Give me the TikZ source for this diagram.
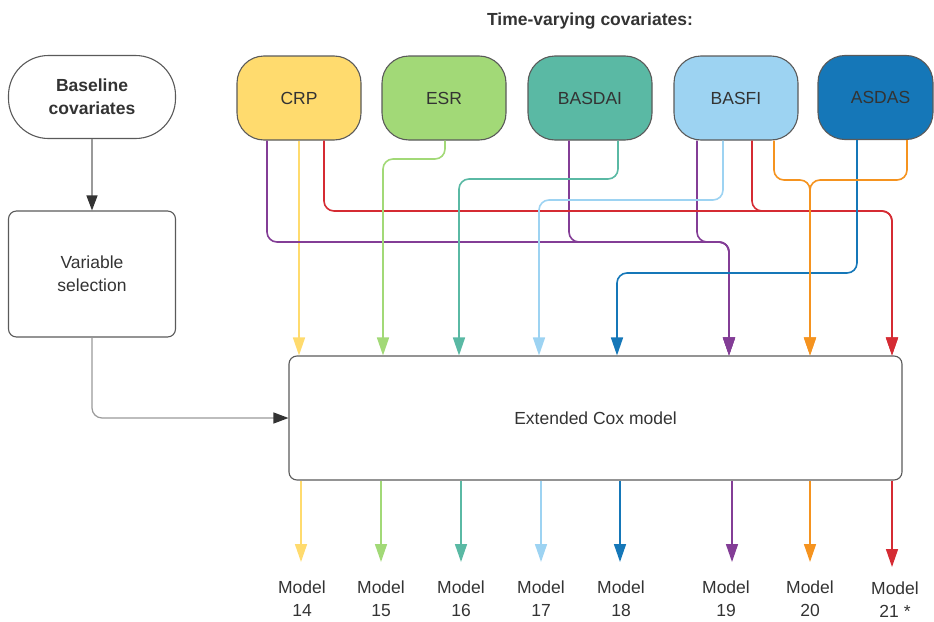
\documentclass[tikz,border=0pt]{standalone}
\usepackage{fontspec}
\setmainfont{Liberation Sans}
\usetikzlibrary{arrows.meta}
\definecolor{cyel}{HTML}{FFDB6E}
\definecolor{cgrn}{HTML}{A2D977}
\definecolor{ctea}{HTML}{5AB9A4}
\definecolor{clbl}{HTML}{9DD3F2}
\definecolor{cdbl}{HTML}{1577B8}
\definecolor{cpur}{HTML}{833D96}
\definecolor{cora}{HTML}{F5931F}
\definecolor{cred}{HTML}{D52B33}
\definecolor{ctxt}{HTML}{333333}
\definecolor{cbrd}{HTML}{5A5A5A}
\definecolor{cgline}{HTML}{9A9A9A}
\begin{document}
\begin{tikzpicture}[x=1pt,y=-1pt,
  font=\fontsize{17.5}{23}\selectfont, text=ctxt,
  covbox/.style={draw=cbrd, line width=1.1pt, rounded corners=27pt, minimum width=124pt, minimum height=84pt, inner sep=0pt},
  plainbox/.style={draw=cbrd, line width=1.1pt, rounded corners=8pt, inner sep=0pt, align=center},
  conn/.style={draw=#1, line width=1.6pt, rounded corners=10pt, -{Triangle[length=18pt,width=12pt,color=#1]}},
  grayconn/.style={draw=cgline, line width=1.2pt, rounded corners=10pt, -{Triangle[length=15pt,width=11pt,color=ctxt]}},
  lbl/.style={align=center, inner sep=0pt}
]
\useasboundingbox (0,0) rectangle (934,621);

% title
\node[font=\bfseries\fontsize{17.5}{23}\selectfont] (title) at (590,21) {Time-varying covariates:};

% left column
\node[plainbox, rounded corners=40pt, minimum width=167pt, minimum height=83pt,
      font=\bfseries\fontsize{17.5}{23}\selectfont] (base) at (92,97) {Baseline\\covariates};
\node[plainbox, minimum width=167pt, minimum height=126pt] (varsel) at (92,274) {Variable\\selection};

% covariate boxes
\node[covbox, fill=cyel] (crp) at (299,98) {CRP};
\node[covbox, fill=cgrn] (esr) at (444,98) {ESR};
\node[covbox, fill=ctea] (basdai) at (590,98) {BASDAI};
\node[covbox, fill=clbl] (basfi) at (736,98) {BASFI};
\node[covbox, fill=cdbl, minimum width=115pt] (asdas) at (875.5,97.5) {\hspace*{10pt}ASDAS};

% Cox model
\node[plainbox, minimum width=613pt, minimum height=124pt] (cox) at (595.5,418) {Extended Cox model};

% left connectors
\draw[grayconn] (base.south) -- (varsel.north);
\draw[grayconn] (varsel.south) |- (cox.west);

% merge / bend points
\coordinate (pu) at (729,242);
\coordinate (rd) at (892,211);
\coordinate (gr) at (383,159);
\coordinate (te) at (459,179);
\coordinate (lb) at (539,200);
\coordinate (db) at (617,273);
\coordinate (or) at (810,180);

% top connectors
\draw[conn=cyel] (crp.south) -- (crp.south |- cox.north);
\draw[conn=cpur] ([xshift=-32pt]crp.south) |- (pu) -- (pu |- cox.north);
\draw[conn=cpur] ([xshift=-21pt]basdai.south) |- (pu) -- (pu |- cox.north);
\draw[conn=cpur] ([xshift=-39pt]basfi.south) |- (pu) -- (pu |- cox.north);
\draw[conn=cred] ([xshift=25pt]crp.south) |- (rd) -- (rd |- cox.north);
\draw[conn=cred] ([xshift=16pt]basfi.south) |- (rd) -- (rd |- cox.north);
\draw[conn=cgrn] ([xshift=1pt]esr.south) |- (gr) -- (gr |- cox.north);
\draw[conn=ctea] ([xshift=28pt]basdai.south) |- (te) -- (te |- cox.north);
\draw[conn=clbl] ([xshift=-13pt]basfi.south) |- (lb) -- (lb |- cox.north);
\draw[conn=cdbl] ([xshift=-18.5pt]asdas.south) |- (db) -- (db |- cox.north);
\draw[conn=cora] ([xshift=38pt]basfi.south) |- (or) -- (or |- cox.north);
\draw[conn=cora] ([xshift=31.5pt]asdas.south) |- (or) -- (or |- cox.north);

% bottom arrow tips
\coordinate (b14) at (301,562);
\coordinate (b15) at (381,562);
\coordinate (b16) at (461,562);
\coordinate (b17) at (541,562);
\coordinate (b18) at (620,562);
\coordinate (b19) at (732,562);
\coordinate (b20) at (810,562);
\coordinate (b21) at (892,567);

\draw[conn=cyel] (cox.south -| b14) -- (b14);
\draw[conn=cgrn] (cox.south -| b15) -- (b15);
\draw[conn=ctea] (cox.south -| b16) -- (b16);
\draw[conn=clbl] (cox.south -| b17) -- (b17);
\draw[conn=cdbl] (cox.south -| b18) -- (b18);
\draw[conn=cpur] (cox.south -| b19) -- (b19);
\draw[conn=cora] (cox.south -| b20) -- (b20);
\draw[conn=cred] (cox.south -| b21) -- (b21);

% labels
\node[lbl] (m14) at (302,599) {Model\\14};
\node[lbl] (m15) at (381,599) {Model\\15};
\node[lbl] (m16) at (461,599) {Model\\16};
\node[lbl] (m17) at (541,599) {Model\\17};
\node[lbl] (m18) at (621,599) {Model\\18};
\node[lbl] (m19) at (726,599) {Model\\19};
\node[lbl] (m20) at (810,599) {Model\\20};
\node[lbl] (m21) at (895,600) {Model\\21 *};
\end{tikzpicture}
\end{document}
